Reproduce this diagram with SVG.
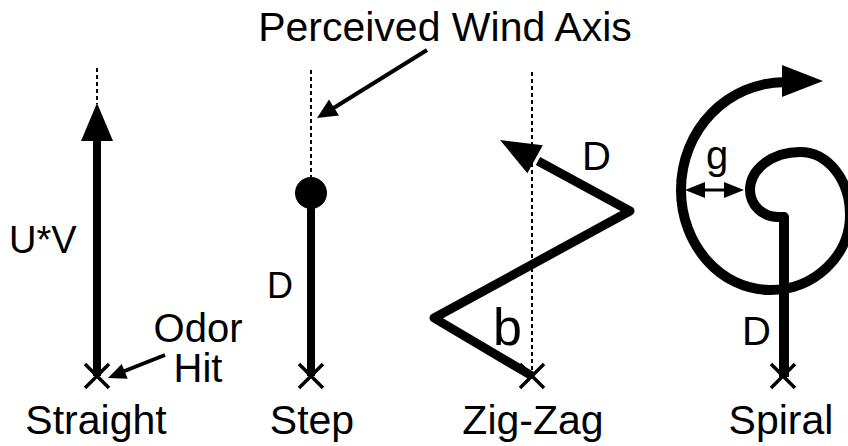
<svg xmlns="http://www.w3.org/2000/svg" width="848" height="446" viewBox="0 0 848 446">
<style>
text{font-family:"Liberation Sans",Arial,sans-serif;font-size:40px;fill:#000}
.axis{stroke:#000;stroke-width:2;stroke-dasharray:4,3;fill:none}
.thick{stroke:#000;stroke-width:8;fill:none;stroke-linejoin:round}
.xm{stroke:#000;stroke-width:3.5;fill:none}
.thin{stroke:#000;stroke-width:4;fill:none}
.head{fill:#000;stroke:none}
</style>
<rect width="848" height="446" fill="#fff"/>
<g id="title">
<text x="445" y="41" text-anchor="middle" style="font-size:41px">Perceived Wind Axis</text>
</g>
<g id="straight">
<line class="axis" x1="97" y1="68" x2="97" y2="104"/>
<line class="thick" x1="97" y1="138" x2="97" y2="376"/>
<polygon class="head" points="97,103 113,141 81,141"/>
<path class="xm" d="M85,364 L109,388 M109,364 L85,388"/>
<text x="9" y="253" style="font-size:38px">U*V</text>
<text x="96" y="434" text-anchor="middle" style="font-size:41px">Straight</text>
</g>
<g id="odor-hit">
<text x="198" y="342" text-anchor="middle">Odor</text>
<text x="198" y="382" text-anchor="middle">Hit</text>
</g>
<g id="step">
<line class="axis" x1="311" y1="70" x2="311" y2="180"/>
<line class="thick" x1="311" y1="193" x2="311" y2="376"/>
<circle cx="311" cy="193" r="16" fill="#000"/>
<path class="xm" d="M299,364 L323,388 M323,364 L299,388"/>
<text x="267" y="298" style="font-size:36px">D</text>
<text x="312" y="434" text-anchor="middle" style="font-size:41px">Step</text>
</g>
<g id="zigzag">
<line class="axis" x1="532" y1="72" x2="532" y2="376"/>
<path class="thick" style="stroke-width:9" d="M532,376 L434,318 L630,211 L538,161"/>
<polygon class="head" points="500,140 542.8,145.2 527.4,173.2"/>
<path class="xm" d="M520,364 L544,388 M544,364 L520,388"/>
<text x="582" y="170">D</text>
<text x="493" y="345" style="font-size:52px">b</text>
<text x="533" y="434" text-anchor="middle" style="font-size:41px">Zig-Zag</text>
</g>
<g id="spiral">
<path class="thick" style="stroke-width:10" d="M784,377 L784,217 L778,217 C762.5,217 750,204.9 750,190 C750,169 772.4,152 800,152 C828,152 850,180 850,215 C850,256 814,290 770,290 C721,290 681,245 681,190 C681,130 727,82 786,82"/>
<polygon class="head" points="782,65 823,81 782,97"/>
<path class="xm" d="M771,364 L795,388 M795,364 L771,388"/>
<line x1="702" y1="190" x2="725" y2="190" stroke="#000" stroke-width="3"/>
<polygon class="head" points="685,190 705,182 705,198"/>
<polygon class="head" points="744,190 724,182 724,198"/>
<text x="706" y="169">g</text>
<text x="742" y="345">D</text>
<text x="781" y="434" text-anchor="middle" style="font-size:41px">Spiral</text>
</g>
<g id="connectors">
<line class="thin" x1="427" y1="50" x2="332" y2="109"/>
<polygon class="head" points="317,118 339,115.6 329,99.4"/>
<line class="thin" x1="165" y1="355" x2="122" y2="372"/>
<polygon class="head" points="108,378 127.7,378.7 121.7,363.9"/>
</g>
</svg>
